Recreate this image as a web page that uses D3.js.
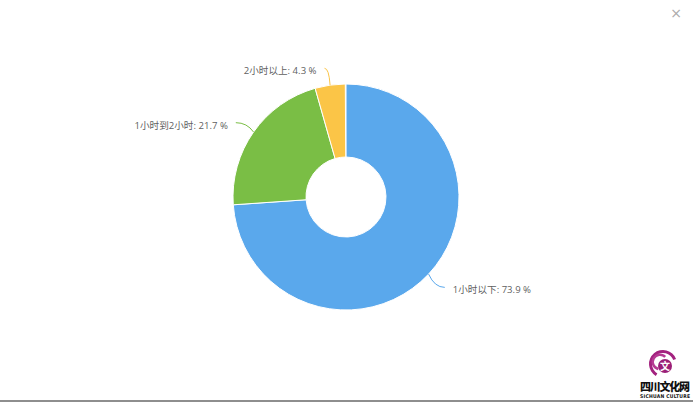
<!DOCTYPE html>
<html><head><meta charset="utf-8">
<script src="https://cdn.jsdelivr.net/npm/d3@7"></script>
<style>
html,body{margin:0;padding:0;background:#fff;}
svg{display:block;}
</style></head>
<body>
<script>
const categories = ["1小时以下", "1小时到2小时", "2小时以上"];
const values = [73.9, 21.7, 4.3];
const colors = ["#5aa8ec", "#7abe45", "#fbc547"];

const W = 693, H = 403;
const cx = 346, cy = 197, R = 113, r0 = 40;
const svg = d3.select("body").append("svg").attr("width", W).attr("height", H);

const data = categories.map((c, i) => ({name: c, value: values[i], color: colors[i]}));
const pie = d3.pie().value(d => d.value).sort(null).startAngle(0).endAngle(2 * Math.PI * d3.sum(values) / 100);
const arcs = pie(data);
const arc = d3.arc().innerRadius(r0).outerRadius(R);

const g = svg.append("g").attr("transform", `translate(${cx},${cy})`);
g.selectAll("path.slice").data(arcs).enter().append("path")
  .attr("class", "slice")
  .attr("d", arc)
  .attr("fill", d => d.data.color)
  .attr("stroke", "#fff").attr("stroke-width", 1);

function pt(a, rad) { return [rad * Math.sin(a), -rad * Math.cos(a)]; }

arcs.forEach(d => {
  const a = (d.startAngle + d.endAngle) / 2;
  const s = pt(a, R);
  const m = pt(a, R + 8);
  const e0 = pt(a, R + 18);
  const right = Math.sin(a) > 0;
  const e = [e0[0] + (right ? 3 : -3), e0[1] + 1];
  g.append("path")
    .attr("d", `M${s[0]},${s[1]} Q${m[0]},${e[1]} ${e[0]},${e[1]}`)
    .attr("fill", "none").attr("stroke", d.data.color).attr("stroke-width", 1);
  g.append("text")
    .attr("x", e0[0] + (right ? 11 : -11))
    .attr("y", e0[1] + 7)
    .attr("text-anchor", right ? "start" : "end")
    .attr("font-family", "'Open Sans','Noto Sans CJK SC',sans-serif")
    .attr("font-size", "9.6px")
    .attr("fill", "#5f5f5f")
    .text(`${d.data.name}: ${d.data.value} %`);
});

// close button
svg.append("text").attr("x", 676).attr("y", 18).attr("text-anchor", "middle")
  .attr("font-family", "'DejaVu Sans',sans-serif").attr("font-size", "14px")
  .attr("fill", "#aaa").text("×");

// bottom border
svg.append("rect").attr("x", 0).attr("y", 400).attr("width", W).attr("height", 2).attr("fill", "#8e8e8e");

// logo
const lg = svg.append("g").attr("transform", "translate(663,364)");
lg.append("path").attr("d", d3.arc().innerRadius(11).outerRadius(14).startAngle(-2.6).endAngle(1.2)())
  .attr("fill", "#a3227f");
lg.append("path").attr("d", d3.arc().innerRadius(6).outerRadius(8.5).startAngle(-2.9).endAngle(0.8)())
  .attr("fill", "#b63a93").attr("transform", "translate(-3,-2)");
lg.append("circle").attr("cx", 2).attr("cy", 2).attr("r", 7).attr("fill", "#9a1f77");
lg.append("text").attr("x", 2).attr("y", 6).attr("text-anchor", "middle")
  .attr("font-family", "'Noto Sans CJK SC'").attr("font-size", "10px").attr("font-weight", "bold")
  .attr("fill", "#fff").text("文");
svg.append("text").attr("x", 665).attr("y", 391).attr("text-anchor", "middle")
  .attr("font-family", "'Noto Sans CJK SC'").attr("font-size", "11px").attr("font-weight", "900")
  .attr("fill", "#111").attr("textLength", 50).text("四川文化网");
svg.append("text").attr("x", 665).attr("y", 398).attr("text-anchor", "middle")
  .attr("font-family", "'DejaVu Sans Condensed','DejaVu Sans',sans-serif").attr("font-size", "5px").attr("font-weight", "bold")
  .attr("fill", "#111").attr("textLength", 50).text("SICHUAN CULTURE");
</script>
</body></html>
